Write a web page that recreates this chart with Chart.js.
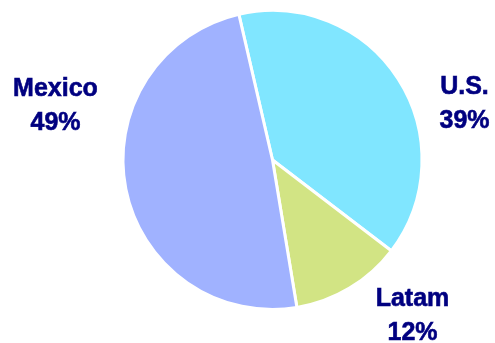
<!DOCTYPE html>
<html>
<head>
<meta charset="utf-8">
<script src="https://cdn.jsdelivr.net/npm/chart.js@4"></script>
<style>
  html, body { margin: 0; padding: 0; background: #fff; }
  #wrap { width: 495px; height: 343px; }
</style>
</head>
<body>
<div id="wrap"><canvas id="regionPie"></canvas></div>
<script>
// Sales split by region
const regions = ['U.S.', 'Latam', 'Mexico'];
const shares = [39, 12, 49];
const sliceColors = ['#80E6FF', '#D2E484', '#A0B2FF'];

// where each label sits, relative to the pie centre (px)
const labelOffsets = [[192, -66], [140, 146], [-217, -64]];

const sliceLabels = {
    id: 'sliceLabels',
    afterDatasetsDraw(chart) {
        const c = chart.ctx;
        const arcs = chart.getDatasetMeta(0).data;
        c.save();
        c.font = 'bold 25px "Liberation Sans", Arial, sans-serif';
        c.fillStyle = '#000080';
        c.strokeStyle = '#000080';
        c.lineWidth = 0.6;
        c.textAlign = 'center';
        c.textBaseline = 'alphabetic';
        arcs.forEach((arc, i) => {
            const x = arc.x + labelOffsets[i][0];
            const y = arc.y + labelOffsets[i][1];
            c.fillText(regions[i], x, y);
            c.strokeText(regions[i], x, y);
            c.fillText(shares[i] + '%', x, y + 34);
            c.strokeText(shares[i] + '%', x, y + 34);
        });
        c.restore();
    }
};

const ctx = document.getElementById('regionPie').getContext('2d');
const regionPie = new Chart(ctx, {
    type: 'pie',
    data: {
        labels: regions,
        datasets: [{
            data: shares,
            backgroundColor: sliceColors,
            borderColor: '#FFFFFF',
            borderWidth: 3
        }]
    },
    options: {
        responsive: true,
        maintainAspectRatio: false,
        animation: false,
        rotation: -13,
        layout: { padding: { top: 9, bottom: 32, left: 121.5, right: 71.5 } },
        plugins: {
            legend: { display: false },
            tooltip: { enabled: false }
        }
    },
    plugins: [sliceLabels]
});
</script>
</body>
</html>
